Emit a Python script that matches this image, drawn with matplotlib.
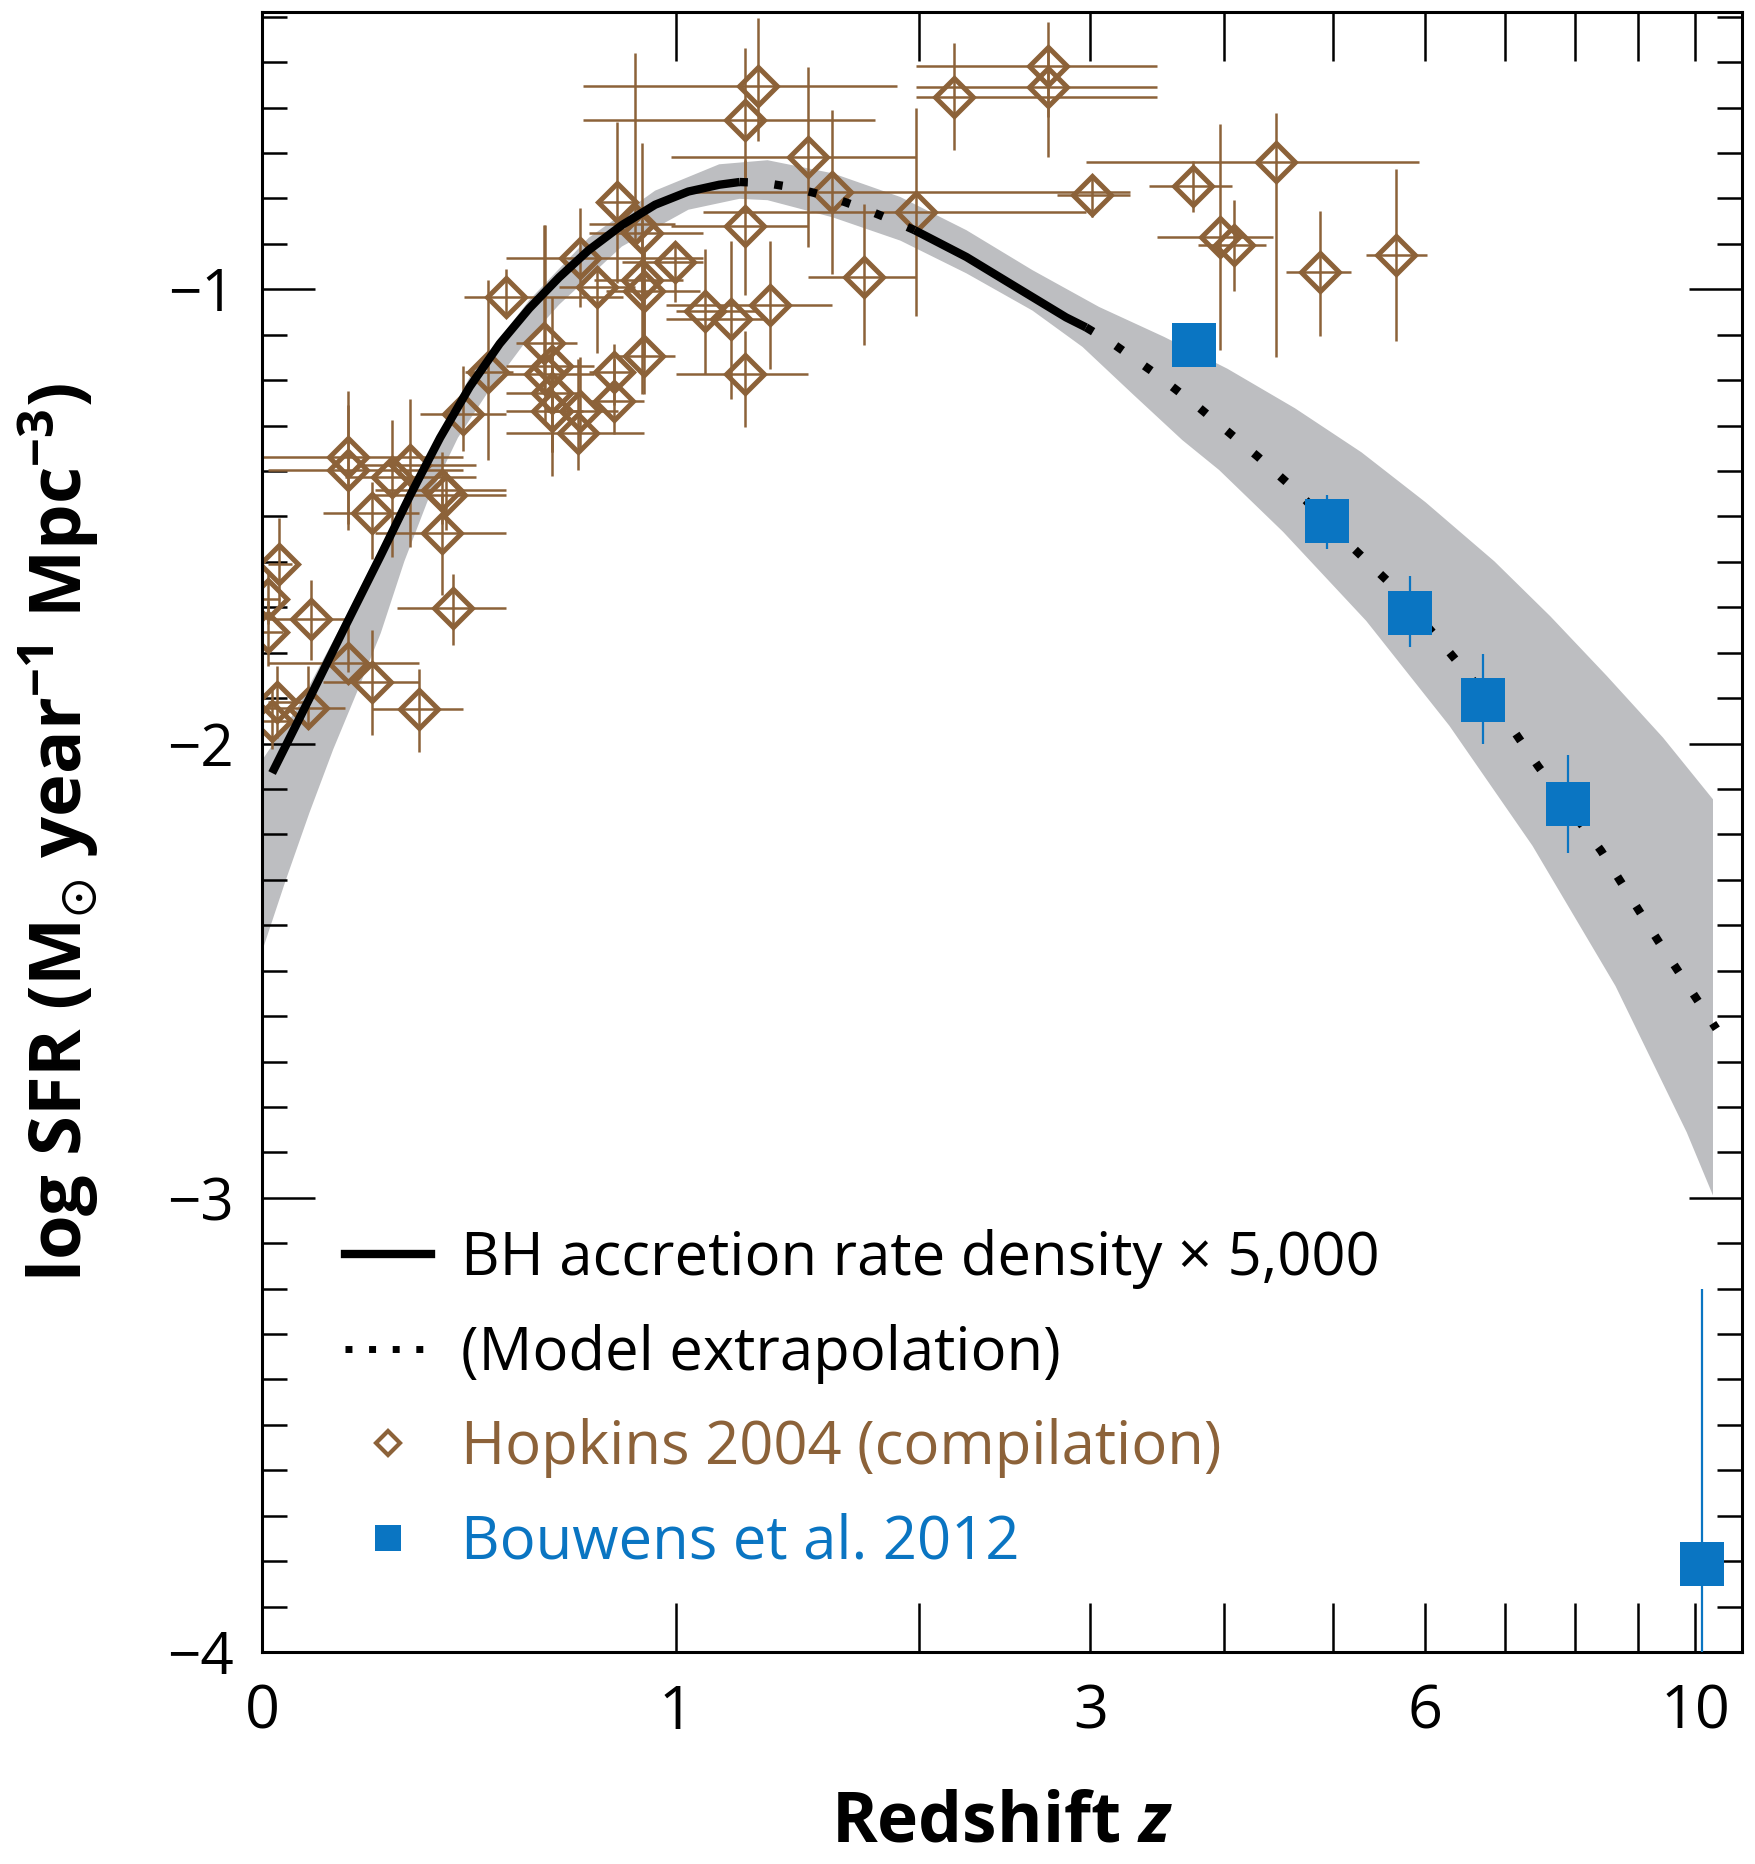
import numpy as np
import matplotlib
matplotlib.use('Agg')
import matplotlib.pyplot as plt
from matplotlib.lines import Line2D
from matplotlib.ticker import MultipleLocator, FixedLocator

plt.rcParams['font.family'] = ['Open Sans', 'DejaVu Sans']
plt.rcParams['mathtext.fontset'] = 'custom'
plt.rcParams['mathtext.rm'] = 'Open Sans:bold'
plt.rcParams['mathtext.it'] = 'Open Sans:italic:bold'
plt.rcParams['mathtext.bf'] = 'Open Sans:bold'
plt.rcParams['mathtext.fallback'] = 'stixsans'

BROWN = '#8C6239'
BLUE = '#0A75C2'
BAND = '#BDBEC1'

# BH accretion rate density x 5000 (log SFR units), split into drawn segments
bh_solid1_z = [0.017, 0.0827, 0.149, 0.2198, 0.2817, 0.3471, 0.4155, 0.4884, 0.5641, 0.6439, 0.7272, 0.826, 0.9305, 1.0406, 1.149, 1.2234]
bh_solid1_v = [-2.065, -1.9005, -1.743, -1.586, -1.453, -1.327, -1.215, -1.120, -1.042, -0.974, -0.914, -0.859, -0.814, -0.785, -0.770, -0.764]
bh_dot1_z = [1.2234, 1.32, 1.42, 1.52, 1.64, 1.75, 1.86, 1.98]
bh_dot1_v = [-0.764, -0.766, -0.775, -0.788, -0.806, -0.825, -0.846, -0.870]
bh_solid2_z = [1.98, 2.25, 2.53, 2.84, 2.97]
bh_solid2_v = [-0.870, -0.929, -0.995, -1.062, -1.084]
bh_dot2_z = [2.97, 3.15, 3.46, 3.79, 4.29, 4.65, 5.20, 5.60, 6.20, 7.05, 7.46, 8.40, 9.34, 10.4]
bh_dot2_v = [-1.084, -1.119, -1.186, -1.259, -1.368, -1.445, -1.568, -1.647, -1.779, -1.955, -2.05, -2.236, -2.434, -2.628]

# uncertainty band
band_up_z = [0.0, 0.0614, 0.149, 0.2817, 0.4155, 0.5641, 0.7272, 0.9305, 1.149, 1.33, 1.60, 1.91, 2.25, 2.63,
             3.058, 3.525, 4.03, 4.632, 5.295, 6.008, 6.863, 7.635, 8.489, 9.426, 10.336]
band_up_v = [-2.037, -1.921, -1.725, -1.437, -1.194, -1.024, -0.887, -0.783, -0.725, -0.716, -0.745, -0.797, -0.870, -0.958,
             -1.039, -1.105, -1.175, -1.262, -1.359, -1.469, -1.599, -1.720, -1.851, -1.987, -2.123]
band_lo_z = [0.0, 0.0405, 0.0827, 0.1265, 0.1722, 0.2198, 0.2689, 0.3205, 0.3879, 0.4584, 0.548, 0.644, 0.826, 1.041,
             1.223, 1.33, 1.60, 1.91, 2.25, 2.63, 2.947, 3.29, 3.664, 3.961, 4.521, 5.345, 6.293, 7.38, 8.63, 9.849, 10.336]
band_lo_v = [-2.458, -2.301, -2.152, -2.013, -1.887, -1.757, -1.599, -1.463, -1.327, -1.228, -1.123, -1.034, -0.906, -0.825,
             -0.801, -0.804, -0.842, -0.893, -0.965, -1.047, -1.127, -1.230, -1.332, -1.398, -1.534, -1.730, -1.961, -2.225,
             -2.534, -2.856, -2.995]

# Hopkins 2004 compilation: z, bin edges, log SFR, lower/upper ends of error bars
hop_z = [1.295, 1.245, 1.494, 1.596, 1.245, 1.988, 1.737, 2.184, 2.726, 2.726, 3.01, 3.75, 4.46, 3.97, 4.09, 4.87, 5.67,
         1.099, 1.192, 1.341, 1.245, 0.811, 0.867, 0.889, 0.703, 0.997, 0.751, 0.889, 0.896, 0.503, 0.602, 0.896,
         0.459, 0.605, 0.624, 0.624, 0.624, 0.801, 0.801, 0.703, 0.696, 0.399, 0.154, 0.154, 0.244, 0.282, 0.352,
         0.36, 0.203, 0.352, 0.028, 0.377, 0.01, 0.01, 0.085, 0.154, 0.203, 0.3, 0.026, 0.016, 0.08]
hop_zlo = [0.71, 0.71, 0.984, 1.024, 0.984, 1.09, 1.494, 1.988, 1.988, 1.988, 2.78, 3.41, 2.97, 3.47, 3.79, 4.55, 5.34,
           1.0, 0.965, 0.965, 1.0, 0.758, 0.727, 0.727, 0.503, 0.825, 0.643, 0.744, 0.779, 0.402, 0.53, 0.804,
           0.404, 0.503, 0.503, 0.503, 0.503, 0.727, 0.727, 0.611, 0.503, 0.302, 0.0, 0.01, 0.149, 0.172, 0.208,
           0.208, 0.107, 0.208, 0.01, 0.254, 0.0, 0.0, 0.01, 0.01, 0.107, 0.203, 0.01, 0.0, 0.0]
hop_zhi = [1.893, 1.79, 1.988, 3.27, 1.494, 2.97, 1.988, 3.47, 3.47, 3.47, 3.27, 4.07, 5.93, 4.43, 4.37, 5.19, 6.02,
           1.295, 1.327, 1.596, 1.494, 0.867, 0.997, 1.09, 1.09, 1.09, 0.867, 1.024, 1.081, 0.831, 0.693, 0.997,
           0.521, 0.744, 0.744, 0.693, 0.71, 0.867, 0.896, 0.815, 0.896, 0.503, 0.399, 0.399, 0.43, 0.43, 0.503,
           0.503, 0.3, 0.503, 0.051, 0.503, 0.03, 0.035, 0.163, 0.3, 0.3, 0.399, 0.083, 0.061, 0.149]
hop_sfr = [-0.552, -0.628, -0.709, -0.785, -0.861, -0.830, -0.974, -0.576, -0.508, -0.555, -0.793, -0.772, -0.720, -0.885, -0.903, -0.963, -0.924,
           -1.047, -1.065, -1.034, -1.186, -0.809, -0.856, -0.877, -0.932, -0.940, -0.995, -0.979, -1.003, -1.018, -1.118, -1.147,
           -1.183, -1.186, -1.168, -1.228, -1.267, -1.183, -1.246, -1.267, -1.317, -1.275, -1.369, -1.398, -1.414, -1.387, -1.442,
           -1.453, -1.492, -1.537, -1.605, -1.702, -1.681, -1.754, -1.725, -1.822, -1.864, -1.924, -1.908, -1.950, -1.921]
hop_lo = [-0.673, -0.757, -0.908, -0.966, -1.013, -1.060, -1.123, -0.694, -0.62, -0.709, -0.840, -0.830, -1.149, -1.134, -1.003, -1.102, -1.113,
          -1.186, -1.241, -1.175, -1.304, -0.987, -0.908, -1.045, -1.039, -1.029, -1.141, -1.230, -1.149, -1.055, -1.228, -1.230,
          -1.377, -1.293, -1.359, -1.359, -1.411, -1.254, -1.319, -1.359, -1.398, -1.356, -1.516, -1.529, -1.589, -1.568, -1.516,
          -1.529, -1.594, -1.673, -1.699, -1.783, -1.738, -1.830, -1.817, -1.843, -1.982, -2.018, -1.987, -2.013, -1.969]
hop_hi = [-0.403, -0.469, -0.510, -0.605, -0.715, -0.602, -0.812, -0.458, -0.411, -0.476, -0.757, -0.717, -0.613, -0.636, -0.804, -0.827, -0.736,
          -0.911, -0.893, -0.893, -1.092, -0.631, -0.479, -0.678, -0.822, -0.903, -0.958, -0.848, -0.914, -0.955, -0.859, -0.919,
          -0.979, -0.859, -1.018, -1.123, -1.149, -1.120, -1.154, -1.149, -1.154, -1.170, -1.223, -1.254, -1.288, -1.241, -1.359,
          -1.40, -1.424, -1.450, -1.503, -1.626, -1.620, -1.686, -1.641, -1.725, -1.751, -1.835, -1.830, -1.882, -1.830]

# Bouwens et al. 2012
bw_z = [3.76, 4.94, 5.83, 6.71, 7.89, 10.13]
bw_sfr = [-1.123, -1.51, -1.712, -1.905, -2.133, -3.806]
bw_lo = [-1.17, -1.571, -1.788, -2.0, -2.24, -4.3]
bw_hi = [-1.08, -1.453, -1.632, -1.804, -2.025, -3.20]

legend_labels = ['BH accretion rate density \u00d7 5,000', '(Model extrapolation)',
                 'Hopkins 2004 (compilation)', 'Bouwens et al. 2012']


def fwd(z):
    with np.errstate(invalid='ignore', divide='ignore'):
        return np.log10(1 + np.asarray(z, dtype=float))


def inv(x):
    return 10 ** np.asarray(x, dtype=float) - 1


fig = plt.figure(figsize=(17.55, 18.64), dpi=100)
ax = fig.add_axes([0.1493, 0.1137, 0.8433, 0.8798])
ax.set_xscale('function', functions=(fwd, inv))

# band
ax.fill(np.concatenate([band_up_z, band_lo_z[::-1]]),
        np.concatenate([band_up_v, band_lo_v[::-1]]),
        color=BAND, lw=0, zorder=1)

# Hopkins points
hz = np.array(hop_z)
hv = np.array(hop_sfr)
ax.errorbar(hz, hv,
            xerr=[hz - np.array(hop_zlo), np.array(hop_zhi) - hz],
            yerr=[hv - np.array(hop_lo), np.array(hop_hi) - hv],
            fmt='D', ms=19, mfc='none', mec=BROWN, mew=3.6,
            ecolor=BROWN, elinewidth=1.8, capsize=0, zorder=2)

# model curve
for zz, vv in [(bh_solid1_z, bh_solid1_v), (bh_solid2_z, bh_solid2_v)]:
    ax.plot(zz, vv, color='k', lw=6, solid_capstyle='butt', solid_joinstyle='round', zorder=3)
for zz, vv in [(bh_dot1_z, bh_dot1_v), (bh_dot2_z, bh_dot2_v)]:
    ax.plot(zz, vv, color='k', lw=6, linestyle=(0, (1, 3.2)), zorder=3)

# Bouwens points
bz = np.array(bw_z)
bv = np.array(bw_sfr)
ax.errorbar(bz, bv, yerr=[bv - np.array(bw_lo), np.array(bw_hi) - bv],
            fmt='s', ms=31, color=BLUE, mew=0, ecolor=BLUE,
            elinewidth=1.6, capsize=0, zorder=4)

ax.set_xlim(0, 10.9)
ax.set_ylim(-4, -0.39)

ax.xaxis.set_major_locator(FixedLocator(list(range(0, 11))))
ax.set_xticklabels(['0', '1', '', '3', '', '', '6', '', '', '', '10'])
ax.yaxis.set_major_locator(MultipleLocator(1))
ax.yaxis.set_minor_locator(MultipleLocator(0.1))

ax.tick_params(axis='x', which='major', direction='in', length=35, width=1.8,
               top=True, labelsize=44, pad=22)
ax.tick_params(axis='y', which='major', direction='in', length=38, width=1.8,
               right=True, labelsize=42, pad=20)
ax.tick_params(axis='y', which='minor', direction='in', length=18, width=1.8,
               right=True)
for sp in ax.spines.values():
    sp.set_linewidth(2.2)

ax.set_xlabel(r'Redshift $z$', fontsize=50, fontweight='bold')
ax.xaxis.set_label_coords(0.5, -0.083)
ax.set_ylabel(r'log SFR (M$_{\odot}$ year$^{-1}$ Mpc$^{-3}$)', fontsize=52, fontweight='bold')
ax.yaxis.set_label_coords(-0.109, 0.5)

# legend
handles = [Line2D([], [], color='k', lw=6),
           Line2D([], [], color='k', lw=5, linestyle=(0, (1, 2.4))),
           Line2D([], [], ls='none', marker='D', ms=12, mfc='none', mec=BROWN, mew=3),
           Line2D([], [], ls='none', marker='s', ms=19, color=BLUE, mew=0)]
leg = ax.legend(handles, legend_labels, loc='upper left', bbox_to_anchor=(0.056, 0.258),
                frameon=False, fontsize=43, handlelength=1.45, handletextpad=0.5,
                labelspacing=0.58, borderpad=0, borderaxespad=0)
for t, c in zip(leg.get_texts(), ['k', 'k', BROWN, BLUE]):
    t.set_color(c)

fig.savefig('out.png', dpi=100)
